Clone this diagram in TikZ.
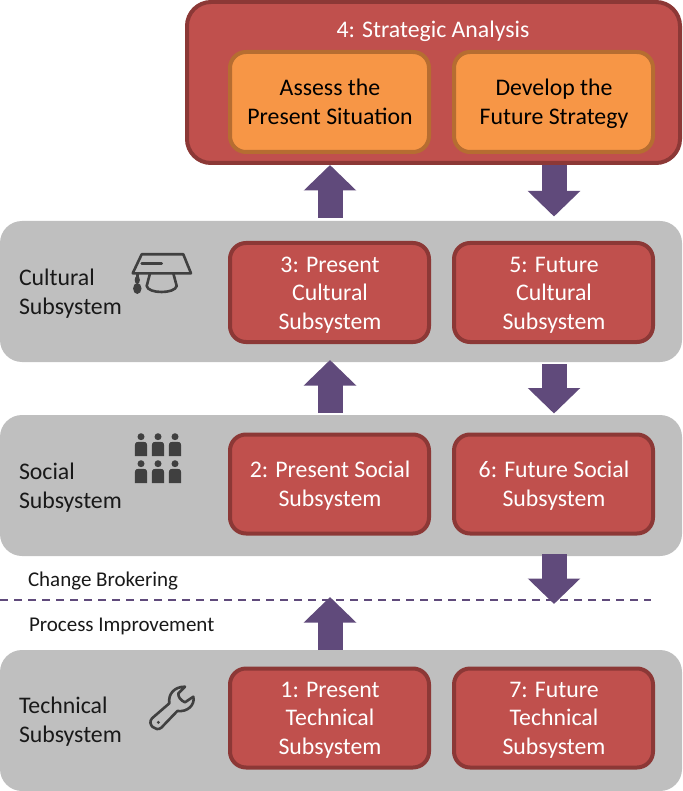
\documentclass[tikz,border=0pt]{standalone}
\usepackage{fontspec}
\setmainfont{Carlito}
\usetikzlibrary{arrows.meta,calc}
\definecolor{panelgray}{HTML}{BFBFBF}
\definecolor{redfill}{HTML}{C0504D}
\definecolor{redline}{HTML}{8C3836}
\definecolor{orangefill}{HTML}{F79646}
\definecolor{orangeline}{HTML}{B66D31}
\definecolor{purple}{HTML}{604A7B}
\definecolor{icon}{HTML}{404040}
\newcommand{\ls}{\vphantom{Apy}}
\tikzset{
  x=1pt,y=-1pt,
  every node/.style={font=\fontsize{23.8}{28.7}\selectfont,inner sep=0pt,outer sep=0pt},
  panel/.style={fill=panelgray,rounded corners=22pt,minimum width=682pt,minimum height=141pt,anchor=north west},
  redbox/.style={draw=redline,fill=redfill,line width=4pt,rounded corners=16pt,minimum width=199pt,minimum height=99pt},
  orangebox/.style={draw=orangeline,fill=orangefill,line width=4pt,rounded corners=16pt,minimum width=199pt,minimum height=100pt},
  boxtext/.style={text=white,align=center},
  panellabel/.style={anchor=west,align=left,text=black!90},
  smalllabel/.style={anchor=west,font=\fontsize{21}{24}\selectfont,text=black!90},
  flow/.style={purple,line width=25pt,-{Triangle[width=51pt,length=25.5pt]}},
  iconline/.style={draw=icon,line width=2.6pt,line cap=round,line join=round},
}
\begin{document}
\begin{tikzpicture}
\useasboundingbox (0,0) rectangle (682,791);
% panels
\node[panel] (cultural) at (0,221) {};
\node[panel] (social) at (0,415) {};
\node[panel] (technical) at (0,650) {};
\node[draw=redline,fill=redfill,line width=4pt,rounded corners=24pt,minimum width=493pt,minimum height=161pt] (strategic) at (433.5,82.5) {};
\node[text=white] (stitle) at (433,31) {4: Strategic Analysis};
% boxes
\node[orangebox] (assess) at (329.5,102) {};
\node[orangebox] (develop) at (553.5,102) {};
\node[redbox] (b3) at (329.5,292.5) {};
\node[redbox] (b5) at (553.5,292.5) {};
\node[redbox] (b2) at (329.5,484) {};
\node[redbox] (b6) at (553.5,484) {};
\node[redbox] (b1) at (329.5,718) {};
\node[redbox] (b7) at (553.5,718) {};
\node[text=black,align=center,yshift=-2pt,xshift=.5pt] (ta) at (assess.center) {\ls Assess the\\\ls Present Situation};
\node[text=black,align=center,yshift=-2pt,xshift=.5pt] (td) at (develop.center) {\ls Develop the\\\ls Future Strategy};
\node[boxtext,yshift=-2.5pt,xshift=.5pt] (t3) at (b3.center) {\ls 3: Present\\Cultural\\\ls Subsystem};
\node[boxtext,yshift=-2.5pt,xshift=.5pt] (t5) at (b5.center) {\ls 5: Future\\Cultural\\\ls Subsystem};
\node[boxtext,yshift=-1.5pt,xshift=.5pt] (t2) at (b2.center) {\ls 2: Present Social\\\ls Subsystem};
\node[boxtext,yshift=-1.5pt,xshift=.5pt] (t6) at (b6.center) {\ls 6: Future Social\\\ls Subsystem};
\node[boxtext,yshift=-2pt,xshift=.5pt] (t1) at (b1.center) {\ls 1: Present\\Technical\\\ls Subsystem};
\node[boxtext,yshift=-2pt,xshift=.5pt] (t7) at (b7.center) {\ls 7: Future\\Technical\\\ls Subsystem};
% labels
\node[panellabel] (lcult) at (19,293.5) {\ls Cultural\\\ls Subsystem};
\node[panellabel] (lsoc) at (19,487.5) {\ls Social\\\ls Subsystem};
\node[panellabel] (ltech) at (19,721.5) {\ls Technical\\\ls Subsystem};
\node[smalllabel] (lchange) at (28,581) {\ls Change Brokering};
\node[smalllabel] (lproc) at (29,626) {\ls Process Improvement};
% divider
\coordinate (dl) at (0,600);
\coordinate (dr) at (651,600);
\draw[purple,line width=2pt,dash pattern=on 8pt off 6pt] (dl) -- (dr);
% arrows
\coordinate (a1s) at (330,218); \coordinate (a1e) at (330,165);
\coordinate (a2s) at (330,413); \coordinate (a2e) at (330,360);
\coordinate (a3s) at (330,650); \coordinate (a3e) at (330,597);
\coordinate (a4s) at (554,165); \coordinate (a4e) at (554,216.5);
\coordinate (a5s) at (554,364); \coordinate (a5e) at (554,413.5);
\coordinate (a6s) at (554,554); \coordinate (a6e) at (554,604);
\foreach \s/\e in {a1s/a1e,a2s/a2e,a3s/a3e,a4s/a4e,a5s/a5e,a6s/a6e}
  \draw[flow] (\s) -- (\e);
% cap icon
\draw[iconline] (141.7,254.3) -- (183.3,254.3) -- (191,273.3) -- (132.7,273.3) -- cycle;
\draw[iconline] (141.7,263.3) -- (161.7,263.3);
\draw[iconline] (150,273.3) -- (146.7,286) .. controls (148,294) and (175,294) .. (176.7,286) -- (173.3,273.3);
\draw[iconline] (137.3,273.3) -- (137.3,282);
\fill[icon] (137.3,288.5) ellipse (4.2 and 5.5);
\fill[icon] (137.3,280) ellipse (2.6 and 4);
% people icon
\foreach \r in {0,27}\foreach \c in {141,158,175}{
  \fill[icon] (\c,436.7+\r) circle (3.5);
  \fill[icon] (\c-6.2,456+\r) -- (\c-6.2,446+\r) .. controls (\c-6.2,441.8+\r) and (\c-4,441.8+\r) .. (\c,441.8+\r) .. controls (\c+4,441.8+\r) and (\c+6.2,441.8+\r) .. (\c+6.2,446+\r) -- (\c+6.2,456+\r) -- cycle;
}
% wrench icon
\begin{scope}[shift={(140,675)},x=0.3333pt,y=-0.3333pt]
\draw[iconline] (36,130) -- (88,85) .. controls (84,58) and (102,35) .. (135,35) -- (115,55) .. controls (114,66) and (122,76) .. (135,82) -- (160,65) .. controls (166,90) and (142,112) .. (112,108) -- (64,158) .. controls (48,172) and (20,148) .. (36,130) -- cycle;
\fill[icon] (55,142) circle (5);
\end{scope}
\end{tikzpicture}
\end{document}
